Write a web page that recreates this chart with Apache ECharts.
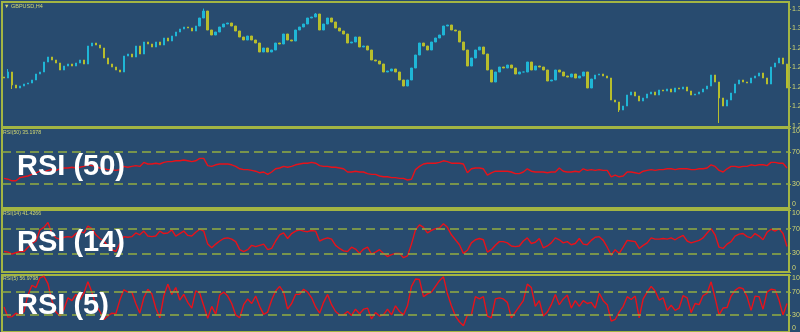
<!DOCTYPE html>
<html><head><meta charset="utf-8">
<script src="https://cdn.jsdelivr.net/npm/echarts@6/dist/echarts.min.js"></script>
<style>html,body{margin:0;padding:0;background:#284b6f;}#c{width:800px;height:332px;}</style>
</head><body><div id="c"></div>
<script>
// ---- DATA ----
const firstOpen = 1.2790;
const closes = [
1.2785,1.2815,1.2750,1.2735,1.2745,1.2755,1.2760,1.2775,1.2805,1.2815,
1.2865,1.2890,1.2875,1.2860,1.2825,1.2845,1.2855,1.2845,1.2860,1.2875,
1.2855,1.2945,1.2960,1.2950,1.2935,1.2885,1.2855,1.2840,1.2825,1.2815,
1.2895,1.2905,1.2890,1.2945,1.2905,1.2965,1.2955,1.2940,1.2965,1.2950,
1.2985,1.2970,1.2995,1.3015,1.3030,1.3040,1.3035,1.3020,1.3045,1.3085,
1.3120,1.3025,1.3000,1.3015,1.3040,1.3055,1.3060,1.3045,1.3020,1.2990,
1.2975,1.2995,1.2975,1.2960,1.2915,1.2935,1.2915,1.2925,1.2960,1.2955,
1.3005,1.2975,1.2970,1.3025,1.3040,1.3055,1.3085,1.3090,1.3105,1.3025,
1.3055,1.3085,1.3065,1.3035,1.3020,1.3005,1.2960,1.2965,1.2990,1.2940,
1.2945,1.2925,1.2875,1.2870,1.2855,1.2815,1.2820,1.2830,1.2815,1.2775,
1.2745,1.2775,1.2835,1.2900,1.2960,1.2945,1.2925,1.2965,1.2985,1.3000,
1.3045,1.3050,1.3025,1.3020,1.2965,1.2925,1.2845,1.2885,1.2925,1.2940,
1.2905,1.2825,1.2765,1.2815,1.2840,1.2835,1.2850,1.2835,1.2805,1.2815,
1.2815,1.2865,1.2825,1.2845,1.2840,1.2825,1.2770,1.2775,1.2825,1.2815,
1.2795,1.2790,1.2805,1.2785,1.2795,1.2815,1.2735,1.2780,1.2800,1.2805,
1.2795,1.2785,1.2675,1.2665,1.2625,1.2645,1.2700,1.2715,1.2695,1.2670,
1.2685,1.2705,1.2715,1.2700,1.2725,1.2720,1.2730,1.2715,1.2735,1.2730,
1.2740,1.2720,1.2700,1.2705,1.2715,1.2730,1.2745,1.2800,1.2765,1.2685,
1.2645,1.2675,1.2710,1.2755,1.2775,1.2765,1.2760,1.2785,1.2795,1.2810,
1.2785,1.2755,1.2840,1.2860,1.2885,1.2855,1.2735
];
const wickLows = {179: 1.2560, 154: 1.2615, 2: 1.2730};
const wickHighs = {50: 1.3132, 1: 1.2830, 78: 1.3110};
const rsi50 = [
37,36,34,34,38,39,40,42,44,46,
45,47,48,47,49,50,50,51,50,51,
52,54,53,52,50,49,48,48,47,48,
52,51,52,53,52,57,55,55,56,55,
57,58,58,59,59,60,59,58,59,62,
62,53,52,54,55,55,55,54,52,49,
48,48,47,46,44,45,42,45,49,50,
52,51,52,54,55,56,56,57,56,53,
52,52,51,51,50,49,45,45,46,45,
45,43,42,42,40,39,39,38,38,37,
37,35,36,48,52,55,56,56,56,57,
59,58,56,56,56,55,44,49,50,50,
49,41,44,46,46,46,46,45,43,43,
45,49,46,45,45,45,44,45,45,50,
46,45,45,46,45,49,47,48,47,48,
47,47,39,41,39,40,45,45,44,43,
46,47,48,47,48,48,49,49,48,49,
49,49,48,48,49,49,50,54,52,47,
45,49,52,52,51,52,52,54,53,54,
54,53,57,57,56,56,50
];
const rsi14 = [
33,32,29,31,33,33,40,46,50,68,
72,80,62,55,53,56,57,56,62,65,
63,74,70,60,54,50,42,36,33,46,
57,56,57,63,60,66,58,57,58,66,
62,63,68,58,62,66,59,58,64,69,
66,45,39,45,50,54,55,53,49,36,
33,36,43,41,43,45,36,38,50,60,
63,54,62,66,68,66,65,67,66,50,
53,55,53,43,38,34,33,40,37,30,
37,40,29,32,36,30,25,28,30,30,
23,26,45,68,76,72,63,67,70,71,
78,72,60,52,44,30,35,47,52,54,
52,32,36,43,49,49,47,42,41,42,
50,55,46,48,54,39,42,47,55,52,
47,49,44,46,54,45,44,51,56,57,
51,40,27,36,30,40,51,50,49,38,
43,47,55,53,53,54,53,55,52,56,
59,50,47,49,51,55,63,70,60,40,
38,45,49,58,61,62,57,55,62,58,
52,64,69,66,70,62,41
];
const rsi5 = [
44,26,27,33,29,36,65,82,78,95,
98,85,55,35,28,40,60,55,66,57,
68,88,70,47,36,22,28,33,32,56,
74,70,70,50,33,60,75,67,42,25,
63,84,66,78,56,66,52,42,72,68,
46,24,45,31,65,70,63,50,30,25,
48,58,50,63,45,31,35,56,72,80,
70,40,50,66,66,75,70,60,44,33,
52,66,48,36,30,30,36,29,40,32,
40,42,23,34,28,30,40,30,46,36,
30,46,80,93,92,62,67,70,80,90,
97,67,46,28,18,11,30,30,62,58,
62,28,25,58,60,58,52,25,35,45,
55,84,78,45,55,28,35,48,66,48,
58,65,42,55,45,55,50,52,42,68,
55,48,19,22,35,45,62,57,63,25,
58,70,80,72,56,60,38,47,38,42,
64,60,34,50,48,64,68,88,60,30,
42,43,63,73,78,76,62,38,63,62,
40,70,75,74,56,30,50
];
const priceTicks = [1.31300, 1.30325, 1.29350, 1.28375, 1.27400, 1.26425, 1.25450];
const rsiTicks = [0, 30, 70, 100];
const rsiLevels = [30, 70];
const symbolTitle = '\u25BC GBPUSD,H4';
const rsiTitles = ['RSI(50) 35.1978', 'RSI(14) 41.4266', 'RSI(5) 56.9798'];
const bigLabels = ['RSI (50)', 'RSI (14)', 'RSI (5)'];
const bars = closes.map((_, i) => String(i));

// ---- STYLE ----
const BORDER = '#a3b543';
const LEVEL = '#93ad42';
const TXT = '#d3d872';
const UP = '#1fb6d6';
const DOWN = '#b7bd2c';
const RED = '#e8121a';

const ohlc = closes.map((c, i) => {
  const o = i === 0 ? firstOpen : closes[i - 1];
  let lo = Math.min(o, c), hi = Math.max(o, c);
  if (wickLows[i] !== undefined) lo = wickLows[i];
  if (wickHighs[i] !== undefined) hi = wickHighs[i];
  return [o, c, lo, hi];
});

const grids = [
  {left: 2, right: 11, top: 2, height: 125},
  {left: 2, right: 11, top: 128, height: 80},
  {left: 2, right: 11, top: 210, height: 62},
  {left: 2, right: 11, top: 275, height: 57}
].map(g => Object.assign(g, {show: true, borderColor: BORDER, borderWidth: 2, backgroundColor: 'transparent',
  containLabel: false, outerBoundsMode: 'none'}));

const xAxes = grids.map((g, i) => ({type: 'category', gridIndex: i, data: bars, show: false, boundaryGap: true}));

const labelBase = {color: TXT, fontSize: 7, fontFamily: 'Liberation Sans', margin: 3};
const tickBase = {show: true, length: 2, lineStyle: {color: BORDER, width: 1}};

const yAxes = [{
  type: 'value', gridIndex: 0, position: 'right', min: 1.2540, max: 1.3165,
  splitLine: {show: false}, axisLine: {show: false},
  axisTick: Object.assign({customValues: priceTicks}, tickBase),
  axisLabel: Object.assign({customValues: priceTicks, formatter: v => v.toFixed(5)}, labelBase)
}];
for (let i = 1; i <= 3; i++) {
  yAxes.push({
    type: 'value', gridIndex: i, position: 'right', min: 0, max: 100,
    splitLine: {show: false}, axisLine: {show: false},
    axisTick: Object.assign({customValues: rsiTicks}, tickBase),
    axisLabel: Object.assign({customValues: rsiTicks, verticalAlignMaxLabel: 'top', verticalAlignMinLabel: 'bottom'}, labelBase)
  });
}

function rsiSeries(data, idx) {
  return {
    type: 'line', xAxisIndex: idx, yAxisIndex: idx, data: data,
    symbol: 'none', lineStyle: {color: RED, width: 1.4}, z: 3,
    markLine: {
      silent: true, symbol: ['none', 'none'], label: {show: false},
      lineStyle: {color: LEVEL, type: [9, 5], width: 1.5},
      data: rsiLevels.map(v => ({yAxis: v}))
    }
  };
}

const bigLabelY = [167, 242.5, 305.5];
const titleY = [133, 214, 279];
const graphics = [{
  type: 'text', left: 4, top: 3, silent: true,
  style: {text: symbolTitle, fill: TXT, font: '5.5px "Liberation Sans"'}
}];
rsiTitles.forEach((t, i) => graphics.push({
  type: 'text', x: 3, y: titleY[i], silent: true,
  style: {text: t, fill: TXT, font: '5.2px "Liberation Sans"', textVerticalAlign: 'middle'}
}));
bigLabels.forEach((t, i) => graphics.push({
  type: 'text', x: 17, y: bigLabelY[i], z: 100, silent: true,
  style: {text: t, fill: '#ffffff', font: 'bold 29px "Liberation Sans"', textVerticalAlign: 'middle',
    shadowColor: 'rgba(0,0,0,0.55)', shadowBlur: 3, shadowOffsetX: 1, shadowOffsetY: 1}
}));

const chart = echarts.init(document.getElementById('c'), null, {renderer: 'canvas'});
chart.setOption({
  backgroundColor: '#284b6f',
  animation: false,
  grid: grids,
  xAxis: xAxes,
  yAxis: yAxes,
  series: [
    {
      type: 'candlestick', xAxisIndex: 0, yAxisIndex: 0, data: ohlc, barWidth: 2,
      itemStyle: {color: UP, color0: DOWN, borderColor: UP, borderColor0: DOWN, borderWidth: 1}
    },
    rsiSeries(rsi50, 1),
    rsiSeries(rsi14, 2),
    rsiSeries(rsi5, 3)
  ],
  graphic: graphics
});
</script>
</body></html>
